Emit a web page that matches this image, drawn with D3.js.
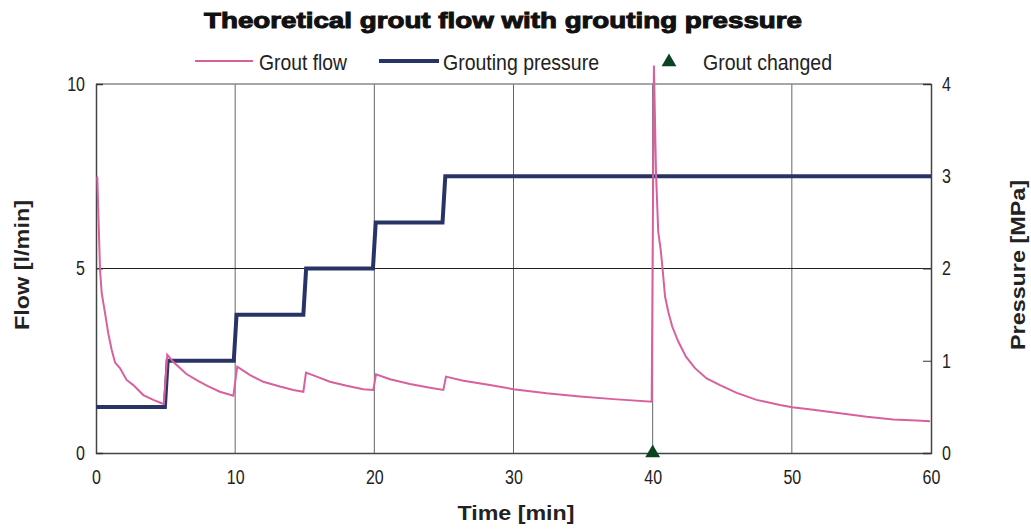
<!DOCTYPE html>
<html><head><meta charset="utf-8">
<script src="https://cdn.jsdelivr.net/npm/d3@7"></script>
<style>body{margin:0;background:#fff}svg{display:block}</style>
</head><body>
<svg id="c" width="1031" height="531"></svg>
<script>
const title = "Theoretical grout flow with grouting pressure";
const xTicks = [0,10,20,30,40,50,60];
const flowTicks = [0,5,10];
const pressureTicks = [0,1,2,3,4];
// Grout flow [l/min] vs time [min]
const flowTime = [0.09,0.29,0.41,0.65,0.88,1.13,1.37,1.72,2.2,2.68,3.4,4.12,4.72,4.88,
  5.12,5.6,6.5,7.3,8.0,8.9,9.87,
  10.15,11.07,12.02,13.22,14.18,14.9,
  15.09,15.86,16.81,18.01,19.2,19.93,
  20.12,21.13,22.56,24.0,24.96,
  25.15,26.4,28.31,29.99,32.38,34.78,37.17,39.93,
  40.09,40.24,40.4,40.58,40.72,40.89,41.12,41.41,41.84,42.39,43.04,43.88,44.84,46.04,47.47,49.15,50.03,51.54,53.46,55.38,57.29,58.97,59.93];
const flowValue = [7.49,4.96,4.33,3.79,3.24,2.79,2.45,2.3,1.98,1.84,1.57,1.44,1.35,1.33,
  2.66,2.45,2.14,1.96,1.82,1.66,1.55,
  2.34,2.11,1.93,1.8,1.71,1.66,
  2.18,2.07,1.93,1.82,1.73,1.71,
  2.13,2.0,1.87,1.77,1.71,
  2.07,1.96,1.84,1.73,1.62,1.53,1.46,1.39,
  10.5,7.59,6.0,5.5,4.96,4.24,3.83,3.42,3.02,2.61,2.3,2.02,1.84,1.63,1.44,1.3,1.24,1.17,1.08,0.98,0.91,0.88,0.86];
// Grouting pressure [MPa]
const pressureTime = [0,4.95,5.15,9.9,10.1,14.9,15.1,19.9,20.1,24.9,25.1,60];
const pressureValue = [0.5,0.5,1.0,1.0,1.5,1.5,2.0,2.0,2.5,2.5,3.0,3.0];
// Grout changed marker
const changedTime = [40];
const changedFlow = [0];

const svg = d3.select("#c");
const L = 96, R = 931, T = 84, B = 453;
const x = d3.scaleLinear().domain([0,60]).range([L,R]);
const yF = d3.scaleLinear().domain([0,10]).range([B,T]);
const yP = d3.scaleLinear().domain([0,4]).range([B,T]);
const sans = "'Liberation Sans',Arial,sans-serif";
const pink = "#d9609f", navy = "#283466", green = "#0b4320";

function narrowText(sel, k){
  sel.each(function(){ const w = this.getComputedTextLength();
    d3.select(this).attr("textLength", w*k).attr("lengthAdjust","spacingAndGlyphs"); });
}

// gridlines
svg.append("g").selectAll("line").data([10,20,30,40,50]).join("line")
  .attr("x1",d=>x(d)).attr("x2",d=>x(d)).attr("y1",T).attr("y2",B)
  .attr("stroke","#666").attr("stroke-width",1);
svg.append("line").attr("x1",L).attr("x2",R).attr("y1",yF(5)).attr("y2",yF(5))
  .attr("stroke","#222").attr("stroke-width",1);
// top border
svg.append("line").attr("x1",L).attr("x2",R).attr("y1",T).attr("y2",T)
  .attr("stroke","#888").attr("stroke-width",1.5);

// axes
const fmt = d3.format("d");
const gx = svg.append("g").attr("transform",`translate(0,${B})`)
  .call(d3.axisBottom(x).tickValues(xTicks).tickSize(0).tickPadding(25).tickFormat(fmt));
const gl = svg.append("g").attr("transform",`translate(${L},0)`)
  .call(d3.axisLeft(yF).tickValues(flowTicks).tickSize(-7).tickPadding(11).tickFormat(fmt));
const gr = svg.append("g").attr("transform",`translate(${R},0)`)
  .call(d3.axisRight(yP).tickValues(pressureTicks).tickSize(-8).tickPadding(11).tickFormat(fmt));
[gx,gl,gr].forEach(g=>{
  g.select(".domain").attr("stroke","#444").attr("stroke-width",1.5);
  g.selectAll(".tick line").attr("stroke","#333");
  g.selectAll(".tick text").attr("font-family",sans).attr("font-size",20).attr("fill","#222")
    .call(narrowText, 0.8);
});
gx.selectAll(".tick text").attr("dy","0.3em");

// series
const flowData = flowTime.map((t,i)=>[t,flowValue[i]]);
const presData = pressureTime.map((t,i)=>[t,pressureValue[i]]);
svg.append("path").datum(presData)
  .attr("d",d3.line().x(d=>x(d[0])).y(d=>yP(d[1])))
  .attr("fill","none").attr("stroke",navy).attr("stroke-width",4);
svg.append("path").datum(flowData)
  .attr("d",d3.line().x(d=>x(d[0])).y(d=>yF(d[1])))
  .attr("fill","none").attr("stroke",pink).attr("stroke-width",2);

const tri = d3.symbol().type(d3.symbolTriangle).size(95);
svg.append("g").selectAll("path").data(changedTime).join("path")
  .attr("transform",(d,i)=>`translate(${x(d)},${yF(changedFlow[i])})`)
  .attr("d",tri).attr("fill",green);

// title
svg.append("text").attr("x",503).attr("y",28).attr("text-anchor","middle")
  .attr("font-family",sans).attr("font-weight","bold")
  .attr("font-size",22).attr("stroke","#111").attr("stroke-width",1).attr("fill","#111")
  .attr("textLength",598).attr("lengthAdjust","spacingAndGlyphs").text(title);

// legend
const lg = svg.append("g").attr("font-family",sans).attr("font-size",22).attr("fill","#222");
lg.append("line").attr("x1",195).attr("x2",253).attr("y1",61).attr("y2",61).attr("stroke",pink).attr("stroke-width",2);
lg.append("text").attr("x",259).attr("y",70).attr("textLength",88).attr("lengthAdjust","spacingAndGlyphs").text("Grout flow");
lg.append("line").attr("x1",379).attr("x2",439).attr("y1",61).attr("y2",61).attr("stroke",navy).attr("stroke-width",4);
lg.append("text").attr("x",443).attr("y",70).attr("textLength",156).attr("lengthAdjust","spacingAndGlyphs").text("Grouting pressure");
lg.append("path").attr("transform","translate(669,62)").attr("d",tri).attr("fill",green);
lg.append("text").attr("x",703).attr("y",70).attr("textLength",129).attr("lengthAdjust","spacingAndGlyphs").text("Grout changed");

// axis titles
svg.append("text").attr("x",516).attr("y",520).attr("text-anchor","middle")
  .attr("font-family",sans).attr("font-weight","bold").attr("font-size",21).attr("fill","#222")
  .attr("textLength",117).attr("lengthAdjust","spacingAndGlyphs").text("Time [min]");
svg.append("text").attr("transform",`translate(29,265) rotate(-90)`).attr("text-anchor","middle")
  .attr("font-family",sans).attr("font-weight","bold").attr("font-size",21).attr("fill","#222")
  .attr("textLength",130).attr("lengthAdjust","spacingAndGlyphs").text("Flow [l/min]");
svg.append("text").attr("transform",`translate(1025,265) rotate(-90)`).attr("text-anchor","middle")
  .attr("font-family",sans).attr("font-weight","bold").attr("font-size",21).attr("fill","#222")
  .attr("textLength",170).attr("lengthAdjust","spacingAndGlyphs").text("Pressure [MPa]");
</script>
</body></html>
